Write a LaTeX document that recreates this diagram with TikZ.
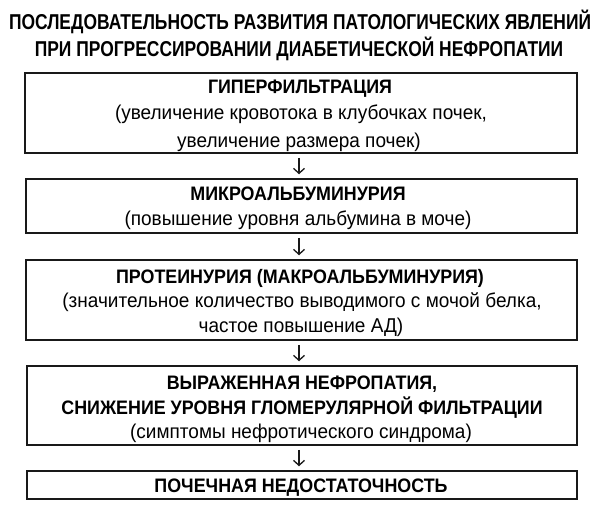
\documentclass[tikz,border=0pt]{standalone}
\usepackage{fontspec}
\setmainfont{Liberation Sans}
\usetikzlibrary{arrows.meta}
\newlength\mytw
\newcommand\fontT{\fontsize{21.5}{21.5}\selectfont\bfseries}
\newcommand\fontH{\fontsize{19.5}{19.5}\selectfont\bfseries}
\newcommand\fontB{\fontsize{20}{20}\selectfont}
\newcommand\sT[1]{\scalebox{\facT}[1]{#1}}
\newcommand\sH[1]{\scalebox{\facH}[1]{#1}}
\newcommand\sB[1]{\scalebox{\facB}[1]{#1}}
\begin{document}
\settowidth\mytw{\fontT ПОСЛЕДОВАТЕЛЬНОСТЬ РАЗВИТИЯ ПАТОЛОГИЧЕСКИХ ЯВЛЕНИЙ}%
\pgfmathsetmacro\facT{582/\the\mytw}%
\settowidth\mytw{\fontH ГИПЕРФИЛЬТРАЦИЯ}%
\pgfmathsetmacro\facH{184/\the\mytw}%
\settowidth\mytw{\fontB (увеличение кровотока в клубочках почек,}%
\pgfmathsetmacro\facB{372/\the\mytw}%
\begin{tikzpicture}[x=1pt,y=-1pt,
  ttl/.style={font=\fontT, anchor=base, inner sep=0pt, text=black},
  hd/.style={font=\fontH, anchor=base, inner sep=0pt, text=black},
  bd/.style={font=\fontB, anchor=base, inner sep=0pt, text=black},
  boxst/.style={draw=black!90, line width=1.5pt, inner sep=0pt, rectangle},
  arr/.style={draw=black!90, line width=1.3pt, -{Straight Barb[length=5pt,width=11pt]}, shorten <=4pt, shorten >=4pt}]
\useasboundingbox (0,0) rectangle (600,511);

% title
\node[ttl] (title1) at (300,30) {\sT{ПОСЛЕДОВАТЕЛЬНОСТЬ РАЗВИТИЯ ПАТОЛОГИЧЕСКИХ ЯВЛЕНИЙ}};
\node[ttl] (title2) at (299,57) {\sT{ПРИ ПРОГРЕССИРОВАНИИ ДИАБЕТИЧЕСКОЙ НЕФРОПАТИИ}};

% boxes
\node[boxst, minimum width=552pt, minimum height=80pt] (b1) at (301,113) {};
\node[boxst, minimum width=551pt, minimum height=54pt] (b2) at (301.5,206) {};
\node[boxst, minimum width=551pt, minimum height=80pt] (b3) at (301.5,300) {};
\node[boxst, minimum width=550pt, minimum height=79pt] (b4) at (302,405.5) {};
\node[boxst, minimum width=550pt, minimum height=28pt] (b5) at (302,485) {};

% box 1
\node[hd] (t1a) at (300,93) {\sH{ГИПЕРФИЛЬТРАЦИЯ}};
\node[bd] (t1b) at (301,120) {\sB{(увеличение кровотока в клубочках почек,}};
\node[bd] (t1c) at (299,147) {\sB{увеличение размера почек)}};
% box 2
\node[hd] (t2a) at (298,200) {\sH{МИКРОАЛЬБУМИНУРИЯ}};
\node[bd] (t2b) at (298,225) {\sB{(повышение уровня альбумина в моче)}};
% box 3
\node[hd] (t3a) at (300,283) {\sH{ПРОТЕИНУРИЯ (МАКРОАЛЬБУМИНУРИЯ)}};
\node[bd] (t3b) at (302,307) {\sB{(значительное количество выводимого с мочой белка,}};
\node[bd] (t3c) at (301,332) {\sB{частое повышение АД)}};
% box 4
\node[hd] (t4a) at (302,389) {\sH{ВЫРАЖЕННАЯ НЕФРОПАТИЯ,}};
\node[hd] (t4b) at (302,414) {\sH{СНИЖЕНИЕ УРОВНЯ ГЛОМЕРУЛЯРНОЙ ФИЛЬТРАЦИИ}};
\node[bd] (t4c) at (301,438) {\sB{(симптомы нефротического синдрома)}};
% box 5
\node[hd] (t5a) at (301,492) {\sH{ПОЧЕЧНАЯ НЕДОСТАТОЧНОСТЬ}};

% arrows
\coordinate (ax) at (299,0);
\draw[arr] (b1.south -| ax) -- (b2.north -| ax);
\draw[arr] (b2.south -| ax) -- (b3.north -| ax);
\draw[arr] (b3.south -| ax) -- (b4.north -| ax);
\draw[arr] (b4.south -| ax) -- (b5.north -| ax);
\end{tikzpicture}
\end{document}
